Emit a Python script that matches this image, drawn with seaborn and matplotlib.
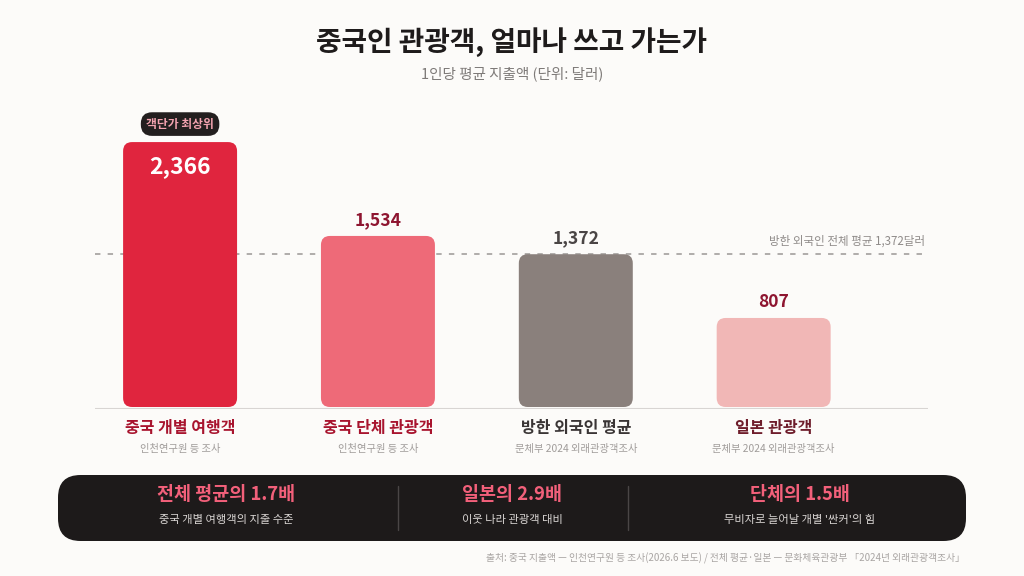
import matplotlib
matplotlib.use("Agg")
import matplotlib.pyplot as plt
import seaborn as sns
import pandas as pd
from matplotlib.patches import FancyBboxPatch

# ---- data ----
categories = ["중국 개별 여행객", "중국 단체 관광객", "방한 외국인 평균", "일본 관광객"]
sources = ["인천연구원 등 조사", "인천연구원 등 조사", "문체부 2024 외래관광객조사", "문체부 2024 외래관광객조사"]
spending = [2366, 1534, 1372, 807]
value_labels = ["2,366", "1,534", "1,372", "807"]
average_value = 1372
average_label = "방한 외국인 전체 평균 1,372달러"
badge_text = "객단가 최상위"
title = "중국인 관광객, 얼마나 쓰고 가는가"
subtitle = "1인당 평균 지출액 (단위: 달러)"
panel_heads = ["전체 평균의 1.7배", "일본의 2.9배", "단체의 1.5배"]
panel_subs = ["중국 개별 여행객의 지출 수준", "이웃 나라 관광객 대비", "무비자로 늘어날 개별 '싼커'의 힘"]
footer = "출처: 중국 지출액 — 인천연구원 등 조사(2026.6 보도) / 전체 평균·일본 — 문화체육관광부 「2024년 외래관광객조사」"

bar_colors = ["#E0253E", "#EE6A78", "#8A807C", "#F1B7B6"]
label_colors = ["#A8142E", "#A8142E", "#3A3535", "#6E1D2B"]
value_colors = ["#FFFFFF", "#8E1530", "#4A4545", "#8E1530"]

sns.set_theme(style="white")
plt.rcParams["font.family"] = ["Noto Sans CJK KR", "DejaVu Sans"]

BG = "#FCFBF9"
W, H = 1024, 576
fig = plt.figure(figsize=(W / 100, H / 100), dpi=100, facecolor=BG)

def fx(px):
    return px / W

def fy(py):
    return 1 - py / H

ax_left, ax_right, ax_base, ax_top = 95, 928, 409, 100
ax = fig.add_axes([fx(ax_left), fy(ax_base), fx(ax_right - ax_left), (ax_base - ax_top) / H])
ax.set_facecolor(BG)

df = pd.DataFrame({"cat": categories, "val": spending})
sns.barplot(data=df, x="cat", y="val", hue="cat", palette=bar_colors, width=0.576,
            saturation=1, legend=False, ax=ax, zorder=3)

xlim = (-0.43, 3.78)
ylim = (0, 2739)
ax.set_xlim(*xlim)
ax.set_ylim(*ylim)
ax.axis("off")

# pixel scale for rounded bars
x_per_px = (xlim[1] - xlim[0]) / (ax_right - ax_left)
y_per_px = (ylim[1] - ylim[0]) / (ax_base - ax_top)
aspect = y_per_px / x_per_px
r = 9 * x_per_px

for i, p in enumerate(list(ax.patches)):
    x0, y0 = p.get_x(), p.get_y()
    w, h = p.get_width(), p.get_height()
    gap = 2 * y_per_px
    fb = FancyBboxPatch((x0, y0 + gap), w, h - gap,
                        boxstyle=f"round,pad=0,rounding_size={r}",
                        mutation_aspect=aspect, facecolor=p.get_facecolor(),
                        edgecolor="none", zorder=3)
    p.set_visible(False)
    ax.add_patch(fb)

# baseline
ax.axhline(0, color="#D8D5D3", lw=1.5, zorder=4)
# average dashed line
ax.axhline(average_value, color="#AAA6A4", lw=1.3, ls=(0, (3, 4)), zorder=1)
ax.text(xlim[1] - 0.015, average_value + 13 * y_per_px, average_label, ha="right", va="center",
        fontsize=8.3, color="#8F8B89", zorder=5)

# value labels
for i, v in enumerate(spending):
    if i == 0:
        ax.text(i, v - 24 * y_per_px, value_labels[i], ha="center", va="center",
                fontsize=16.5, fontweight="bold", color=value_colors[i], zorder=5)
    else:
        ax.text(i, v + 16 * y_per_px, value_labels[i], ha="center", va="center",
                fontsize=12.6, fontweight="bold", color=value_colors[i], zorder=5)

# badge above first bar
ax.text(0, spending[0] + 18 * y_per_px, badge_text, ha="center", va="center",
        fontsize=8.5, fontweight="bold", color="#F4A3B0", zorder=6,
        bbox=dict(boxstyle="round,pad=0.45,rounding_size=0.95", facecolor="#231F1F",
                  edgecolor="none"))

# category labels
for i, (c, s) in enumerate(zip(categories, sources)):
    ax.text(i, -19 * y_per_px, c, ha="center", va="center", fontsize=11.5,
            fontweight="bold", color=label_colors[i], clip_on=False)
    ax.text(i, -40 * y_per_px, s, ha="center", va="center", fontsize=7.4,
            color="#A09C9A", clip_on=False)

# title / subtitle
fig.text(0.5, fy(42), title, ha="center", va="center", fontsize=20,
         fontweight="bold", color="#1E1B1B")
fig.text(0.5, fy(74), subtitle, ha="center", va="center", fontsize=10.5, color="#7E7A78")

# dark summary panel
px0, px1, py0, py1 = 58, 966, 475, 541
panel = FancyBboxPatch((fx(px0), fy(py1)), fx(px1 - px0), (py1 - py0) / H,
                       boxstyle="round,pad=0,rounding_size=0.022",
                       mutation_aspect=W / H, transform=fig.transFigure,
                       facecolor="#1D1A1A", edgecolor="none")
fig.add_artist(panel)
for dx in [398, 628]:
    fig.add_artist(plt.Line2D([fx(dx), fx(dx)], [fy(530), fy(486)], color="#4A4646",
                              lw=1, transform=fig.transFigure))
for cx, head, sub in zip([226, 512, 800], panel_heads, panel_subs):
    fig.text(fx(cx), fy(495), head, ha="center", va="center", fontsize=13.3,
             fontweight="bold", color="#F2607A")
    fig.text(fx(cx), fy(520), sub, ha="center", va="center", fontsize=8.1,
             color="#D9D5D3")

fig.text(fx(965), fy(558), footer, ha="right", va="center", fontsize=7.0, color="#A9A5A3")

fig.savefig("out.png", dpi=100, facecolor=BG)
